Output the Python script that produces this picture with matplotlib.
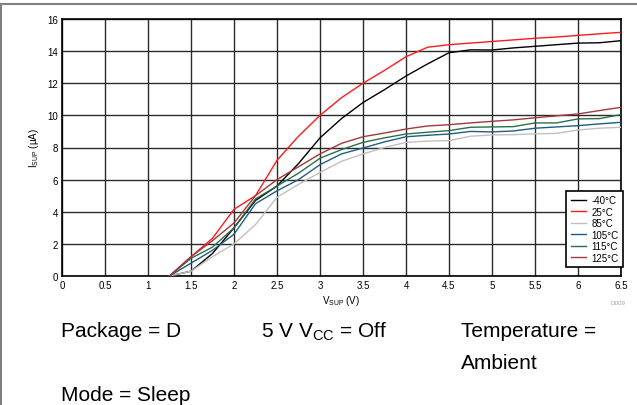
import matplotlib.pyplot as plt
from matplotlib.lines import Line2D

plt.rcParams['font.family'] = ['Liberation Sans', 'DejaVu Sans']

# supply voltage (V)
vsup = [1.25, 1.5, 1.75, 2.0, 2.25, 2.5, 2.75, 3.0, 3.25, 3.5, 3.75, 4.0,
        4.25, 4.5, 4.75, 5.0, 5.25, 5.5, 5.75, 6.0, 6.25, 6.5]

# supply current (uA) per temperature
i_m40 = [0, 0.3, 1.4, 3.0, 4.7, 5.6, 7.0, 8.6, 9.8, 10.8, 11.6, 12.45,
         13.2, 13.9, 14.08, 14.07, 14.2, 14.3, 14.4, 14.5, 14.52, 14.65]
i_25 = [0, 1.2, 2.35, 4.15, 5.0, 7.2, 8.7, 10.0, 11.1, 12.0, 12.8, 13.65,
        14.24, 14.4, 14.5, 14.6, 14.7, 14.8, 14.88, 14.98, 15.08, 15.17]
i_85 = [0, 0.3, 1.2, 2.0, 3.2, 4.9, 5.7, 6.45, 7.14, 7.6, 8.0, 8.32,
        8.4, 8.43, 8.7, 8.78, 8.8, 8.85, 8.88, 9.09, 9.2, 9.26]
i_105 = [0, 0.8, 1.6, 2.6, 4.5, 5.3, 6.0, 6.93, 7.6, 7.97, 8.35, 8.67,
         8.76, 8.84, 9.0, 8.97, 9.03, 9.2, 9.28, 9.36, 9.47, 9.57]
i_115 = [0, 1.1, 1.8, 3.0, 4.8, 5.6, 6.4, 7.33, 7.87, 8.32, 8.6, 8.84,
         8.95, 9.05, 9.26, 9.28, 9.3, 9.53, 9.53, 9.78, 9.8, 10.05]
i_125 = [0, 1.2, 2.2, 3.3, 5.0, 6.0, 6.8, 7.6, 8.26, 8.67, 8.9, 9.15,
         9.34, 9.42, 9.53, 9.63, 9.72, 9.85, 9.97, 10.09, 10.3, 10.5]

labels = ['-40°C', '25°C', '85°C', '105°C', '115°C', '125°C']
colors = ['#000000', '#ff1a1a', '#c0c0c0', '#1f5d86', '#2a7047', '#a3383c']

fig = plt.figure(figsize=(6.37, 4.06), dpi=100)
ax = fig.add_axes([62 / 637, 1 - 277 / 406, 559 / 637, 257 / 406])

for ys, lab, c in zip([i_m40, i_25, i_85, i_105, i_115, i_125], labels, colors):
    ax.plot(vsup, ys, color=c, lw=1.0, label=lab, zorder=3)

ax.set_xlim(0, 6.5)
ax.set_ylim(0, 16)
ax.set_xticks([0, 0.5, 1, 1.5, 2, 2.5, 3, 3.5, 4, 4.5, 5, 5.5, 6, 6.5])
ax.set_xticklabels(['0', '0.5', '1', '1.5', '2', '2.5', '3', '3.5', '4',
                    '4.5', '5', '5.5', '6', '6.5'])
ax.set_yticks(range(0, 17, 2))
ax.tick_params(length=0, labelsize=7, pad=3)
ax.grid(True, color='#2a2a2a', lw=1.0)
for s in ax.spines.values():
    s.set_color('black')
    s.set_linewidth(1.2)

ax.set_xlabel(r'V$_{\mathregular{SUP}}$ (V)', fontsize=7, labelpad=2)
ax.set_ylabel(r'I$_{\mathregular{SUP}}$ ($\mathregular{\mu}$A)', fontsize=7, labelpad=4)

leg = ax.legend(loc='lower right', bbox_to_anchor=(1.003, 0.035), fontsize=7,
                frameon=True, fancybox=False, framealpha=1, edgecolor='black',
                handlelength=1.6, handletextpad=0.5, labelspacing=0.15,
                borderpad=0.45, borderaxespad=0)
leg.get_frame().set_linewidth(1.2)

fig.text(618 / 637, 1 - 304 / 406, 'D009', fontsize=4.5, color='#a0a0a0',
         ha='center', va='center')

fs = 15
fig.text(61 / 637, 1 - 337 / 406, 'Package = D', fontsize=fs, va='baseline')
fig.text(261 / 637, 1 - 337 / 406, r'5 V V$_{\mathregular{CC}}$ = Off',
         fontsize=fs, va='baseline')
fig.text(461 / 637, 1 - 337 / 406, 'Temperature =', fontsize=fs, va='baseline')
fig.text(461 / 637, 1 - 369 / 406, 'Ambient', fontsize=fs, va='baseline')
fig.text(61 / 637, 1 - 401 / 406, 'Mode = Sleep', fontsize=fs, va='baseline')

# page frame lines
fig.add_artist(Line2D([0, 1], [1 - 4.5 / 406] * 2, color='#808080', lw=1.5))
fig.add_artist(Line2D([0.6 / 637] * 2, [0, 1 - 4.5 / 406], color='#808080', lw=1.5))

fig.savefig('out.png', dpi=100)
